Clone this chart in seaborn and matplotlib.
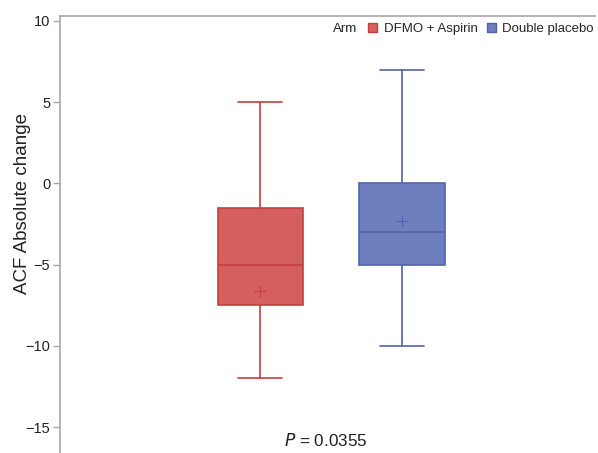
import matplotlib
matplotlib.use("Agg")
import matplotlib.pyplot as plt
import seaborn as sns
from matplotlib.patches import Patch

arms = ["DFMO + Aspirin", "Double placebo"]
whislo = [-12, -10]
q1 = [-7.5, -5]
med = [-5, -3]
q3 = [-1.5, 0]
whishi = [5, 7]
means = [-6.6, -2.3]
yticks = [10, 5, 0, -5, -10, -15]

fills = ["#D45F5F", "#6E7FBE"]
edges = ["#C63E3E", "#5264AC"]

sns.set_style("white")
plt.rcParams['font.family'] = ['Liberation Sans', 'DejaVu Sans']

fig = plt.figure(figsize=(5.98, 4.53), dpi=100)
ax = fig.add_axes([60/598, 0.0, 535/598, 437/453])

stats = []
for i in range(len(arms)):
    stats.append(dict(label=arms[i], whislo=whislo[i], q1=q1[i], med=med[i],
                      q3=q3[i], whishi=whishi[i], mean=means[i], fliers=[]))

for i, s in enumerate(stats):
    ax.bxp([s], positions=[i], widths=0.6, patch_artist=True, showmeans=True,
           showfliers=False, manage_ticks=False,
           boxprops=dict(facecolor=fills[i], edgecolor=edges[i], linewidth=1.2),
           medianprops=dict(color=edges[i], linewidth=1.2),
           whiskerprops=dict(color=edges[i], linewidth=1.2),
           capprops=dict(color=edges[i], linewidth=1.2),
           capwidths=0.31,
           meanprops=dict(marker='+', markeredgecolor=edges[i], markersize=8,
                          markeredgewidth=0.8))

ax.set_xlim(-1.41, 2.36)
ax.set_ylim(-16.6, 10.3)
ax.set_yticks(yticks)
ax.set_yticklabels([str(t).replace('-', '\u2212') for t in yticks], fontsize=10.5)
ax.set_xticks([])
for sp in ['right', 'bottom']:
    ax.spines[sp].set_visible(False)
for sp in ['left', 'top']:
    ax.spines[sp].set_color('#A8A8A8')
    ax.spines[sp].set_linewidth(1.2)
ax.tick_params(axis='y', direction='out', length=5, width=1, color='#A8A8A8',
               left=True, pad=2, labelcolor='#222222')
ax.set_ylabel("ACF Absolute change", fontsize=13.5, color='#222222')
ax.yaxis.set_label_coords(-0.054, 0.572)

fig.text(333/598, 1 - 29/453, "Arm", fontsize=9.5, va='center', ha='left', color='#222222')
handles = [Patch(facecolor=fills[i], edgecolor=edges[i], label=arms[i]) for i in range(2)]
fig.legend(handles=handles, loc='center right', bbox_to_anchor=(594/598, 1 - 29/453),
           ncol=2, frameon=False, fontsize=9.5, handlelength=0.7, handleheight=0.7,
           handletextpad=0.5, columnspacing=0.7, borderaxespad=0, borderpad=0)

fig.text(326/598, 1 - 440/453, r"$\it{P}$ = 0.0355", fontsize=12.3, ha='center',
         va='center', color='#222222')

fig.savefig("out.png", dpi=100)
